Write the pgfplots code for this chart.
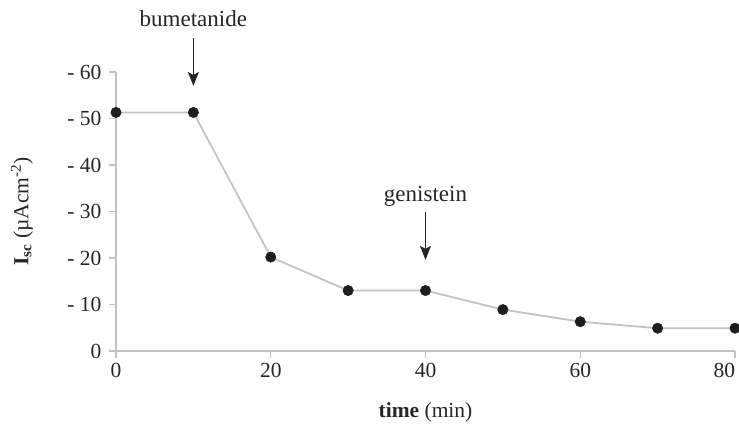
\documentclass[border=0pt]{standalone}
\usepackage{pgfplots}
\pgfplotsset{compat=1.18}
\usepackage{fontspec}
\setmainfont{Liberation Serif}
\usetikzlibrary{arrows.meta}
\definecolor{axgray}{HTML}{C2C2C2}
\definecolor{lngray}{HTML}{C4C4C4}
\definecolor{mk}{HTML}{1E1E1E}
\begin{document}
\begin{tikzpicture}
\useasboundingbox (0pt,0pt) rectangle (739pt,427pt);
\begin{axis}[
  at={(116pt,76pt)}, anchor=south west,
  scale only axis, width=619pt, height=279pt,
  xmin=0, xmax=80, ymin=0, ymax=60,
  axis x line*=bottom, axis y line*=left,
  axis line style={axgray, line width=1.3pt},
  tick style={axgray, line width=1.1pt},
  tick align=outside, major tick length=7pt,
  xtick={0,20,40,60,80}, xticklabels={0,20,40,60,\makebox[0pt][r]{80}},
  ytick={0,10,20,30,40,50,60},
  yticklabels={0,- 10,- 20,- 30,- 40,- 50,- 60},
  minor tick num=0,
  /pgf/number format/assume math mode=true,
  tick label style={font=\fontsize{21.5}{25}\selectfont, text=black!85},
  yticklabel style={xshift=-4pt},
  xticklabel style={yshift=-2pt},
  xlabel={\textbf{time} (min)},
  ylabel={\textbf{I}\textsubscript{\textbf{sc}} (µAcm\textsuperscript{-2})},
  label style={font=\fontsize{21.5}{25}\selectfont, text=black!85},
  xlabel style={at={(axis description cs:0.5,-0.2186)}, anchor=center},
  ylabel style={at={(axis description cs:-0.152,0.5)}, anchor=center},
  clip=false,
]
\addplot[lngray, line width=1.8pt, mark=*, mark size=5.2pt,
  mark options={fill=mk, draw=mk, line width=0.5pt}]
  coordinates {(0,51.3) (10,51.3) (20,20.2) (30,13.0) (40,13.0) (50,8.9) (60,6.3) (70,4.9) (80,4.9)};
\node[font=\fontsize{23}{27}\selectfont, text=black!85] at (axis cs:10,71.5) {bumetanide};
\draw[-{Stealth[length=14pt,width=11pt,inset=3pt]}, line width=1.2pt, black!85] (axis cs:10,67.3) -- (axis cs:10,57.0);
\node[font=\fontsize{23}{27}\selectfont, text=black!85] at (axis cs:40,33.3) {genistein};
\draw[-{Stealth[length=14pt,width=11pt,inset=3pt]}, line width=1.2pt, black!85] (axis cs:40,29.9) -- (axis cs:40,19.6);
\end{axis}
\end{tikzpicture}
\end{document}
